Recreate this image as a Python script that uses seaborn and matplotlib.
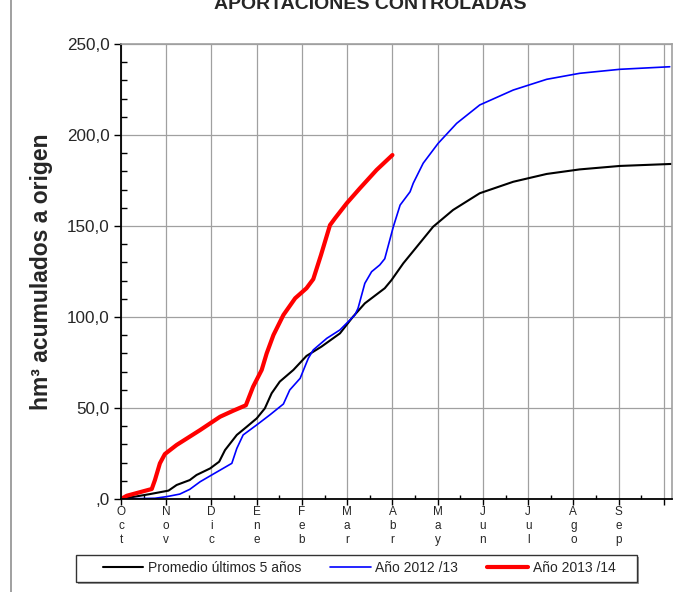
import pandas as pd
import matplotlib
matplotlib.use("Agg")
import matplotlib.pyplot as plt
import seaborn as sns
from matplotlib.lines import Line2D
from matplotlib.patches import Rectangle
from matplotlib.ticker import MultipleLocator, FuncFormatter

# Months of the hydrological year (x in month units, 0 = 1 Oct)
month_labels = ["Oct", "Nov", "Dic", "Ene", "Feb", "Mar",
                "Abr", "May", "Jun", "Jul", "Ago", "Sep"]

# Promedio últimos 5 años
avg_x = [0, 0.64, 1.05, 1.23, 1.52, 1.67, 1.97, 2.17, 2.30, 2.56, 2.78, 3.0,
         3.18, 3.33, 3.51, 3.81, 4.10, 4.43, 4.84, 5.13, 5.39, 5.83, 5.98,
         6.24, 6.48, 6.90, 7.34, 7.93, 8.67, 9.41, 10.14, 11.03, 12.17]
avg_y = [0, 2.7, 4.6, 7.7, 10.4, 13.2, 16.8, 20.5, 26.9, 35.2, 39.7, 44.3,
         49.8, 58.1, 64.5, 70.9, 78.6, 83.7, 91.0, 100.2, 107.5, 115.8, 120.3,
         129.5, 136.8, 149.6, 158.8, 168.0, 174.3, 178.6, 181.1, 183.0, 184.1]

# Año 2012/13
y12_x = [0, 0.75, 1.01, 1.30, 1.52, 1.75, 2.04, 2.45, 2.56, 2.70, 3.0, 3.29,
         3.59, 3.73, 3.96, 4.14, 4.25, 4.55, 4.84, 5.17, 5.24, 5.39, 5.54,
         5.72, 5.83, 6.02, 6.17, 6.39, 6.46, 6.68, 7.01, 7.42, 7.93, 8.67,
         9.41, 10.14, 11.03, 12.13]
y12_y = [0, 0.4, 1.3, 2.7, 5.3, 9.5, 13.7, 19.6, 27.8, 35.2, 40.7, 46.2,
         52.2, 59.9, 66.3, 77.3, 81.9, 88.3, 92.9, 101.1, 104.8, 118.5, 124.9,
         128.6, 132.0, 149.6, 161.5, 168.8, 173.5, 184.5, 195.4, 206.4, 216.5,
         224.7, 230.6, 233.9, 236.1, 237.5]

# Año 2013/14
y13_x = [0, 0.13, 0.68, 0.75, 0.86, 0.97, 1.23, 1.75, 2.19, 2.48, 2.76, 2.92,
         3.11, 3.22, 3.37, 3.59, 3.85, 4.10, 4.25, 4.42, 4.62, 4.73, 4.99,
         5.28, 5.65, 6.0]
y13_y = [0, 1.8, 5.5, 10.4, 19.6, 24.7, 29.7, 37.9, 45.2, 48.5, 51.5, 61.7,
         70.9, 80.0, 90.1, 101.1, 110.3, 115.8, 120.8, 134.0, 150.5, 154.2,
         162.5, 170.7, 180.8, 189.0]

sns.set_style("white")
plt.rcParams["font.family"] = ["Liberation Sans", "DejaVu Sans"]

W, H = 691, 592
fig = plt.figure(figsize=(W / 100, H / 100), dpi=100)
ax = fig.add_axes([121 / W, 1 - 499 / H, 551 / W, 455 / H])

series = [
    ("Promedio últimos 5 años", avg_x, avg_y, "black", 1.5),
    ("Año 2012 /13", y12_x, y12_y, "#0000ff", 1.2),
    ("Año 2013 /14", y13_x, y13_y, "#ff0000", 3.0),
]
for name, xs, ys, col, lw in series:
    df = pd.DataFrame({"mes": xs, "hm3": ys})
    sns.lineplot(data=df, x="mes", y="hm3", ax=ax, color=col, lw=lw,
                 label=name, estimator=None, sort=False)

ax.set_xlim(0, 12.18)
ax.set_ylim(0, 250)

# grid + spines
ax.grid(True, which="major", color="#a0a0a0", lw=0.9)
ax.set_axisbelow(True)
for s in ["top", "right"]:
    ax.spines[s].set_color("#a0a0a0")
    ax.spines[s].set_linewidth(1.2)
for s in ["left", "bottom"]:
    ax.spines[s].set_color("black")
    ax.spines[s].set_linewidth(1.3)

# x ticks: month starts, stacked letters
ax.set_xticks(range(13))
ax.set_xticklabels(["\n".join(m) for m in month_labels] + [""],
                   fontsize=8.5, linespacing=1.2)
ax.xaxis.set_minor_locator(MultipleLocator(0.5))
ax.tick_params(axis="x", which="major", direction="out", length=4,
               width=1, color="black", pad=1)
ax.tick_params(axis="x", which="minor", direction="in", length=3,
               width=1, color="black")

# y ticks
ax.yaxis.set_major_locator(MultipleLocator(50))
ax.yaxis.set_minor_locator(MultipleLocator(10))
ax.yaxis.set_major_formatter(FuncFormatter(
    lambda v, p: ",0" if v == 0 else f"{v:.1f}".replace(".", ",")))
ax.tick_params(axis="y", which="major", direction="out", length=5,
               width=1, color="black", labelsize=12.3, pad=3)
ax.tick_params(axis="y", which="minor", direction="in", length=4,
               width=1, color="black")
ax.tick_params(left=True, bottom=True, which="both")

ax.set_xlabel("")
ax.set_ylabel("hm³ acumulados a origen", fontsize=16.5, fontweight="bold",
              labelpad=10)

# legend below the plot: frameless legend inside a drawn box with shadow
handles, labels = ax.get_legend_handles_labels()
ax.get_legend().remove()
fig.legend(handles, labels, loc="center", ncol=3,
           bbox_to_anchor=(359 / W, 1 - 568 / H),
           fontsize=10, frameon=False,
           handlelength=2.9, handletextpad=0.35, columnspacing=2.1)
bx0, bx1, by0, by1 = 76, 637, 555, 582
fig.add_artist(Rectangle((bx0 / W + 2 / W, 1 - (by1 + 2) / H),
                         (bx1 - bx0) / W, (by1 - by0) / H,
                         transform=fig.transFigure, facecolor="#9a9a9a",
                         edgecolor="none", zorder=0))
fig.add_artist(Rectangle((bx0 / W, 1 - by1 / H),
                         (bx1 - bx0) / W, (by1 - by0) / H,
                         transform=fig.transFigure, facecolor="white",
                         edgecolor="#333333", lw=1, zorder=0.5))

# title, cut at the top as in the original
fig.text(370 / W, 1 - 9 / H, "APORTACIONES CONTROLADAS", ha="center",
         va="baseline", fontsize=14, fontweight="bold")

# chart area border on the left
fig.add_artist(Line2D([11 / W, 11 / W], [0, 1], transform=fig.transFigure,
                      color="#909090", lw=1.2))

fig.savefig("out.png", dpi=100)
